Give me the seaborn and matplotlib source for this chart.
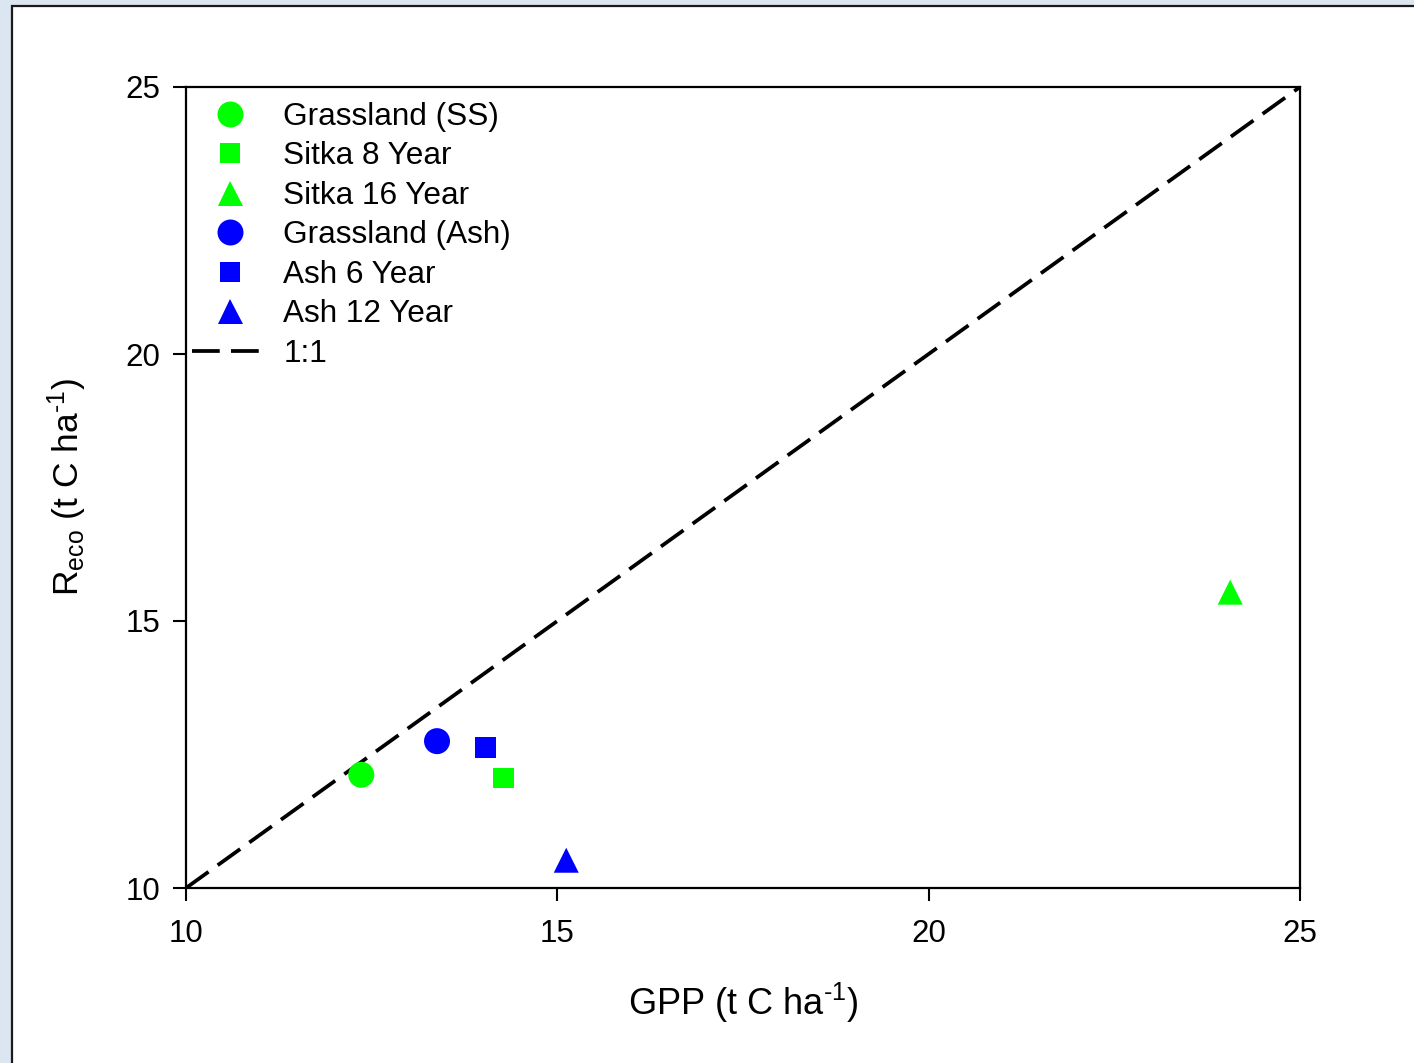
import matplotlib
matplotlib.use("Agg")
import matplotlib.pyplot as plt
import seaborn as sns
import pandas as pd
from matplotlib.patches import Rectangle

# ---- data ----
sites = ["Grassland (SS)", "Sitka 8 Year", "Sitka 16 Year",
         "Grassland (Ash)", "Ash 6 Year", "Ash 12 Year"]
gpp = [12.36, 14.28, 24.06, 13.38, 14.03, 15.12]
reco = [12.12, 12.06, 15.54, 12.75, 12.64, 10.52]
colors = ["#00ff00", "#00ff00", "#00ff00", "#0000ff", "#0000ff", "#0000ff"]
markers = ["o", "s", "^", "o", "s", "^"]
marker_sizes = [350, 228, 324, 350, 228, 324]
one_to_one = [10, 25]
x_ticks = [10, 15, 20, 25]
y_ticks = [10, 15, 20, 25]

sns.set_theme(style="white")
plt.rcParams["font.family"] = ["Liberation Sans", "DejaVu Sans"]
plt.rcParams["mathtext.fontset"] = "custom"
plt.rcParams["mathtext.rm"] = "Liberation Sans"
plt.rcParams["mathtext.it"] = "Liberation Sans"
plt.rcParams["text.color"] = "black"
plt.rcParams["axes.labelcolor"] = "black"

df = pd.DataFrame({"gpp": gpp, "reco": reco, "site": sites})

W, H = 1414, 1063
fig = plt.figure(figsize=(W / 100, H / 100), dpi=100, facecolor="#dce6f1")
# white panel with dark border on left/top
fig.patches.append(Rectangle((12 / W, -0.1), 1.2, 1 - 6 / H + 0.1,
                             transform=fig.transFigure, facecolor="white",
                             edgecolor="#1a1a1a", linewidth=1.6, zorder=-5))

ax = fig.add_axes([186 / W, 1 - 888 / H, (1300 - 186) / W, (888 - 87) / H])
ax.set_facecolor("white")

sns.scatterplot(data=df, x="gpp", y="reco", hue="site", style="site", size="site",
                hue_order=sites, style_order=sites, size_order=sites,
                palette=dict(zip(sites, colors)),
                markers=dict(zip(sites, markers)),
                sizes=dict(zip(sites, marker_sizes)),
                linewidth=0, ax=ax, zorder=3, clip_on=False)
sns.lineplot(x=one_to_one, y=one_to_one, ax=ax, color="black", linewidth=2.7,
             dashes=(7.4, 3), label="1:1", zorder=2)

ax.set_xlim(10, 25)
ax.set_ylim(10, 25)
ax.set_xticks(x_ticks)
ax.set_yticks(y_ticks)
ax.tick_params(axis="both", direction="out", length=9.5, width=1.5,
               labelsize=22.5, colors="black", bottom=True, left=True)
ax.tick_params(axis="y", pad=9)
ax.tick_params(axis="x", pad=13)
for s in ax.spines.values():
    s.set_color("black")
    s.set_linewidth(1.6)

ax.set_xlabel(r"GPP (t C ha$^{\text{-1}}$)", fontsize=26, labelpad=23,
              color="black")
ax.set_ylabel(r"R$_{\text{eco}}$ (t C ha$^{\text{-1}}$)", fontsize=25.5,
              labelpad=26, color="black")

handles, labels = ax.get_legend_handles_labels()
leg = ax.legend(handles=handles, labels=labels, loc="upper left",
                bbox_to_anchor=(6 / 1114, 1 - 15 / 801), borderaxespad=0,
                borderpad=0, frameon=False, fontsize=22.7, labelspacing=0.3,
                handlelength=2.4, handletextpad=0.5)
for t in leg.get_texts():
    t.set_color("black")

fig.savefig("out.png", dpi=100, facecolor=fig.get_facecolor())
